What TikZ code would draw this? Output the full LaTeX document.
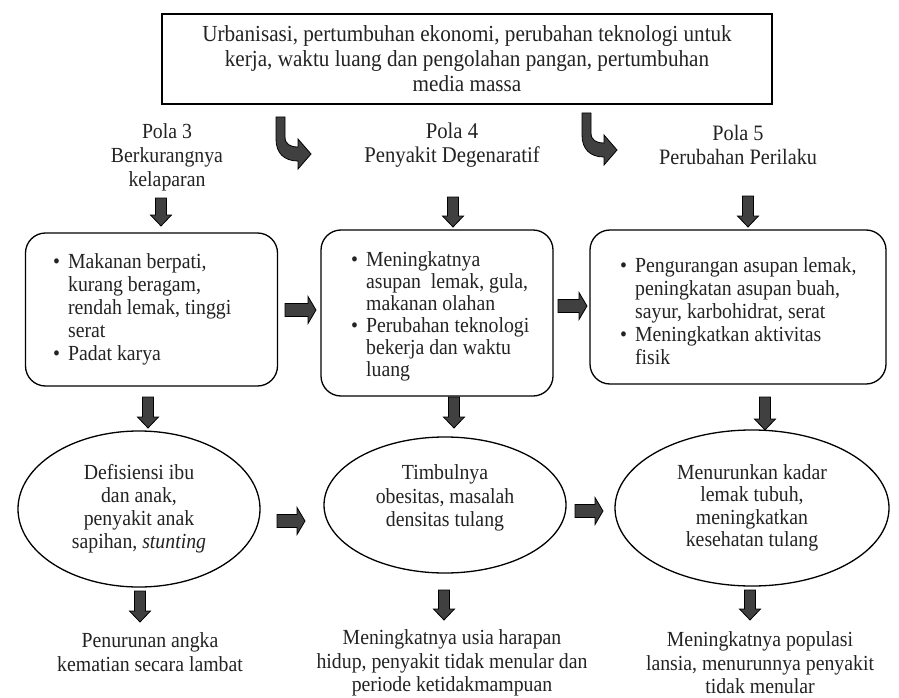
\documentclass[tikz,border=0pt]{standalone}
\usepackage{fontspec}
\setmainfont[FakeStretch=0.92]{Liberation Serif}
\usetikzlibrary{shapes.geometric}
\definecolor{arrowgray}{RGB}{64,64,64}
\definecolor{txt}{RGB}{35,35,35}
\newcommand\dnarr[3]{\draw[blk] ({#1-5.5},#2) -- ({#1+5.5},#2) -- ({#1+5.5},{#3-11}) -- ({#1+10.5},{#3-11}) -- (#1,#3) -- ({#1-10.5},{#3-11}) -- ({#1-5.5},{#3-11}) -- cycle;}
\newcommand\rtarr[3]{\draw[blk] (#2,{#1-6.5}) -- ({#3-8},{#1-6.5}) -- ({#3-8},{#1-13.5}) -- (#3,#1) -- ({#3-8},{#1+13.5}) -- ({#3-8},{#1+6.5}) -- (#2,{#1+6.5}) -- cycle;}
\begin{document}
\begin{tikzpicture}[x=1pt,y=-1pt,
  every node/.style={font=\fontsize{21.5}{24}\selectfont, text=txt, inner sep=0pt},
  blk/.style={fill=arrowgray, draw=black, line width=0.8pt},
  rbox/.style={draw, line width=1.3pt, rounded corners=20pt},
  ell/.style={draw, ellipse, line width=1.3pt},
  lbl/.style={align=center},
  bentarrow/.pic={\draw[blk] (0,0) -- (9,0) -- (9,20) .. controls (9,27) and (14,30) .. (22,30) -- (22,22) -- (35,37) -- (22,52) -- (22,44) .. controls (8,44) and (0,36) .. (0,22) -- cycle;}]
\useasboundingbox (0,0) rectangle (899,698);
\fill[white] (0,0) rectangle (899,698);

% top box
\node[draw, line width=1.5pt, minimum width=610pt, minimum height=90pt, align=center, font=\fontsize{23}{25}\selectfont] (top) at (467,59)
  {Urbanisasi, pertumbuhan ekonomi, perubahan teknologi untuk\\kerja, waktu luang dan pengolahan pangan, pertumbuhan\\media massa};

% bent arrows
\pic at (276,117) {bentarrow};
\pic at (582,113) {bentarrow};

% pola labels
\node[lbl] (p3) at (167,157) {Pola 3\\Berkurangnya\\kelaparan};
\node[lbl, font=\fontsize{22.5}{24}\selectfont] (p4) at (452,145) {Pola 4\\Penyakit Degenaratif};
\node[lbl, font=\fontsize{22}{24}\selectfont] (p5) at (738,145) {Pola 5\\Perubahan Perilaku};

% row 1 down arrows
\dnarr{161}{198}{226}
\dnarr{453}{197}{227}
\dnarr{748}{196}{227}

% boxes
\node[rbox, minimum width=252pt, minimum height=153pt] (b1) at (151.5,309.5) {};
\node[rbox, minimum width=232pt, minimum height=166pt] (b2) at (437,313) {};
\node[rbox, minimum width=296pt, minimum height=154pt] (b3) at (738,307) {};

\node[anchor=north west] (t1) at (53,252) {\fontsize{21.5}{23}\selectfont\begin{tabular}{@{}l@{\hspace{8pt}}l@{}}
\textbullet & Makanan berpati,\\ & kurang beragam,\\ & rendah lemak, tinggi\\ & serat\\ \textbullet & Padat karya\end{tabular}};
\node[anchor=north west] (t2) at (351,251) {\fontsize{21.5}{22}\selectfont\begin{tabular}{@{}l@{\hspace{8pt}}l@{}}
\textbullet & Meningkatnya\\ & asupan\ \ lemak, gula,\\ & makanan olahan\\ \textbullet & Perubahan teknologi\\ & bekerja dan waktu\\ & luang\end{tabular}};
\node[anchor=north west] (t3) at (620,256) {\fontsize{21.5}{23}\selectfont\begin{tabular}{@{}l@{\hspace{8pt}}l@{}}
\textbullet & Pengurangan asupan lemak,\\ & peningkatan asupan buah,\\ & sayur, karbohidrat, serat\\ \textbullet & Meningkatkan aktivitas\\ & fisik\end{tabular}};

% row 1 right arrows
\rtarr{310}{285}{316}
\rtarr{306}{558}{587}

% row 2 down arrows
\dnarr{148}{397}{428}
\dnarr{454}{397}{428}
\dnarr{765}{397}{430}

% ellipses
\node[ell, minimum width=242pt, minimum height=156pt] (e1) at (139,509) {};
\node[ell, minimum width=242pt, minimum height=136pt] (e2) at (445,505) {};
\node[ell, minimum width=274pt, minimum height=156pt] (e3) at (752,508) {};
\node[lbl, font=\fontsize{21.5}{23}\selectfont] (et1) at (139,509) {Defisiensi ibu\\dan anak,\\penyakit anak\\sapihan, \textit{stunting}};
\node[lbl, font=\fontsize{21.5}{23.5}\selectfont] (et2) at (445,498) {Timbulnya\\obesitas, masalah\\densitas tulang};
\node[lbl, font=\fontsize{21.5}{22.5}\selectfont] (et3) at (752,508) {Menurunkan kadar\\lemak tubuh,\\meningkatkan\\kesehatan tulang};

% row 2 right arrows
\rtarr{521}{277}{305}
\rtarr{511}{575}{603}

% row 3 down arrows
\dnarr{140}{591}{622}
\dnarr{444}{590}{620}
\dnarr{750}{590}{620}

% results
\node[lbl] (r1) at (150,652) {Penurunan angka\\kematian secara lambat};
\node[lbl, font=\fontsize{21.5}{23.5}\selectfont] (r2) at (452,663) {Meningkatnya usia harapan\\hidup, penyakit tidak menular dan\\periode ketidakmampuan};
\node[lbl, font=\fontsize{21.5}{23.5}\selectfont] (r3) at (760,663) {Meningkatnya populasi\\lansia, menurunnya penyakit\\tidak menular};
\end{tikzpicture}
\end{document}
